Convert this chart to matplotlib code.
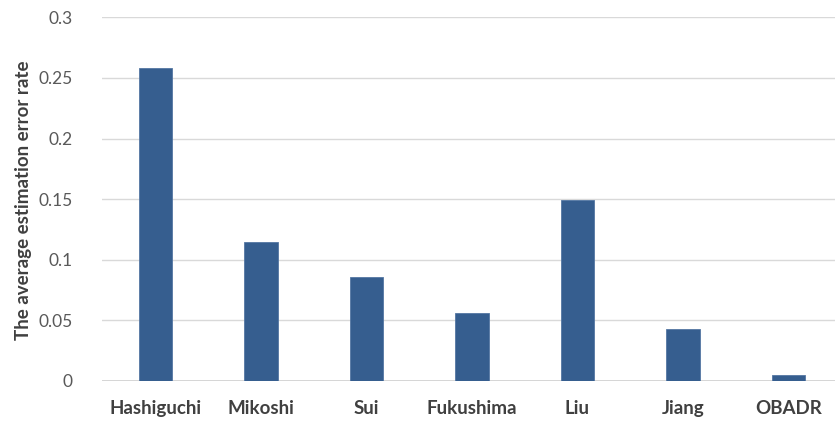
import matplotlib
matplotlib.use("Agg")
import matplotlib.pyplot as plt

methods = ["Hashiguchi", "Mikoshi", "Sui", "Fukushima", "Liu", "Jiang", "OBADR"]
error_rate = [0.258, 0.115, 0.086, 0.056, 0.149, 0.043, 0.005]
y_ticks = [0, 0.05, 0.1, 0.15, 0.2, 0.25, 0.3]
y_tick_labels = ["0", "0.05", "0.1", "0.15", "0.2", "0.25", "0.3"]

plt.rcParams["font.family"] = ["Lato", "DejaVu Sans"]

fig = plt.figure(figsize=(8.35, 4.22), dpi=100)
ax = fig.add_axes([0.1222, 0.0972, 0.8778, 0.8616])

x = range(len(methods))
ax.bar(x, error_rate, width=0.316, color="#365E8F", edgecolor="#5477a3",
       linewidth=0.6, zorder=3)

ax.set_xlim(-0.505, 6.44)
ax.set_ylim(0, 0.3)
ax.set_yticks(y_ticks)
ax.set_yticklabels(y_tick_labels, fontsize=12.5, color="#595959")
ax.set_xticks(list(x))
ax.set_xticklabels(methods, fontsize=13.5, fontweight="bold", color="#404040")
ax.tick_params(axis="both", length=0)
ax.tick_params(axis="y", pad=21)
ax.tick_params(axis="x", pad=14)

ax.yaxis.grid(True, color="#d9d9d9", linewidth=1.0, zorder=0)
for s in ax.spines.values():
    s.set_visible(False)
ax.axhline(0, color="#d0d0d0", linewidth=1.2, zorder=2)

fig.text(0.028, 0.525, "The average estimation error rate", rotation=90,
         fontsize=13.5, fontweight="bold", color="#404040",
         ha="center", va="center")

fig.savefig("out.png", dpi=100, facecolor="white")
